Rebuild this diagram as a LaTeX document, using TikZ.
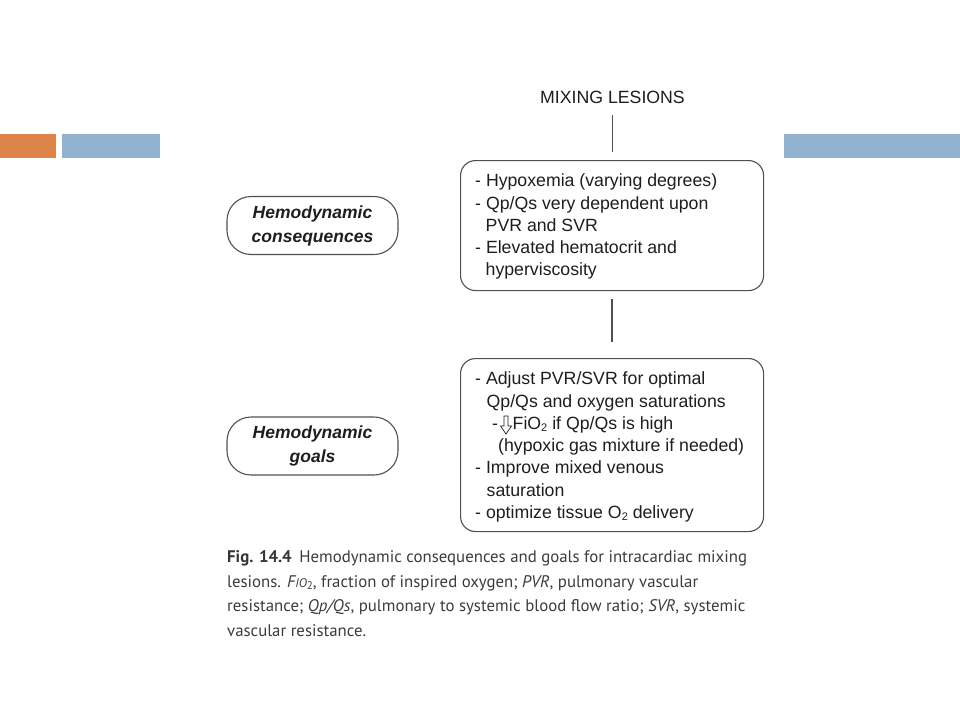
\documentclass[tikz,border=0pt]{standalone}
\usepackage{fontspec}
\setmainfont{Liberation Sans}
\newfontfamily\capfont{PT Sans}
\definecolor{orangebar}{RGB}{221,132,75}
\definecolor{bluebar}{RGB}{146,179,208}
\definecolor{ink}{RGB}{30,30,30}
\definecolor{linegray}{RGB}{80,80,80}
\definecolor{capgray}{RGB}{60,60,60}
\newcommand\subtwo{\raisebox{-0.3ex}{\fontsize{11}{11}\selectfont 2}}
\begin{document}
\begin{tikzpicture}[x=1pt,y=-1pt,
  txt/.style={anchor=base west, inner sep=0, font=\fontsize{17.7}{22}\selectfont, text=ink},
  captxt/.style={anchor=base west, inner sep=0, font=\capfont\fontsize{16.8}{20}\selectfont, text=capgray},
  infobox/.style={draw=linegray, line width=1.1pt, rounded corners=15pt, minimum width=303pt, anchor=north west, inner sep=0},
  pill/.style={draw=linegray, line width=1.1pt, rounded corners=24pt, minimum width=171pt, minimum height=58pt, inner sep=0, align=center, font=\bfseries\itshape\fontsize{17.5}{24}\selectfont, text=ink},
  conn/.style={draw=linegray, line width=1.4pt}]
\useasboundingbox (0,0) rectangle (960,720);
\fill[white] (0,0) rectangle (960,720);
% header bars
\fill[orangebar] (0,134) rectangle (55.5,157.5);
\fill[bluebar] (62,134) rectangle (160,157.5);
\fill[bluebar] (784,134) rectangle (960,157.5);
% title
\node[anchor=base, inner sep=0, font=\fontsize{17.7}{22}\selectfont, text=ink] (title) at (612.5,103) {MIXING LESIONS};
% boxes
\node[infobox, minimum height=130pt] (box1) at (460,160) {};
\node[infobox, minimum height=173pt] (box2) at (460,358) {};
% pills
\node[pill] (cons) at (312.5,225.5) {Hemodynamic\\consequences};
\node[pill] (goals) at (312.5,446) {Hemodynamic\\goals};
% connectors
\draw[conn, shorten <=12pt, shorten >=8pt] (title.south) -- (title.south |- box1.north);
\draw[conn, shorten <=8pt, shorten >=16pt] (box1.south) -- (box2.north);
% box 1 text
\node[txt] (a1) at (475,186) {- Hypoxemia (varying degrees)};
\node[txt] (a2) at (475,209) {- Qp/Qs very dependent upon};
\node[txt] (a3) at (485.5,231) {PVR and SVR};
\node[txt] (a4) at (475,253) {- Elevated hematocrit and};
\node[txt] (a5) at (485.5,275) {hyperviscosity};
% box 2 text
\node[txt] (b1) at (475,384) {- Adjust PVR/SVR for optimal};
\node[txt] (b2) at (486.5,407) {Qp/Qs and oxygen saturations};
\node[txt] (b3a) at (492,429) {-};
\draw[ink, line width=0.7pt, line join=miter] (504,416) -- (508,416) -- (508,426) -- (511.5,426) -- (506,434) -- (500.5,426) -- (504,426) -- cycle;
\node[txt] (b3b) at (512.5,429) {FiO\subtwo\ if Qp/Qs is high};
\node[txt] (b4) at (498,451) {(hypoxic gas mixture if needed)};
\node[txt] (b5) at (475,473) {- Improve mixed venous};
\node[txt] (b6) at (486.5,496) {saturation};
\node[txt] (b7) at (475,518) {- optimize tissue O\subtwo\ delivery};
% caption
\node[captxt] (c1) at (227,562) {{\color{ink!90}\bfseries Fig. 14.4}\hspace{0.45em}Hemodynamic consequences and goals for intracardiac mixing};
\node[captxt] (c2) at (227,587) {lesions. {\itshape F\fontsize{12.5}{12.5}\selectfont IO}\subtwo, fraction of inspired oxygen; \textit{PVR}, pulmonary vascular};
\node[captxt] (c3) at (227,611) {resistance; \textit{Qp/Qs}, pulmonary to systemic blood flow ratio; \textit{SVR}, systemic};
\node[captxt] (c4) at (227,636) {vascular resistance.};
\end{tikzpicture}
\end{document}
